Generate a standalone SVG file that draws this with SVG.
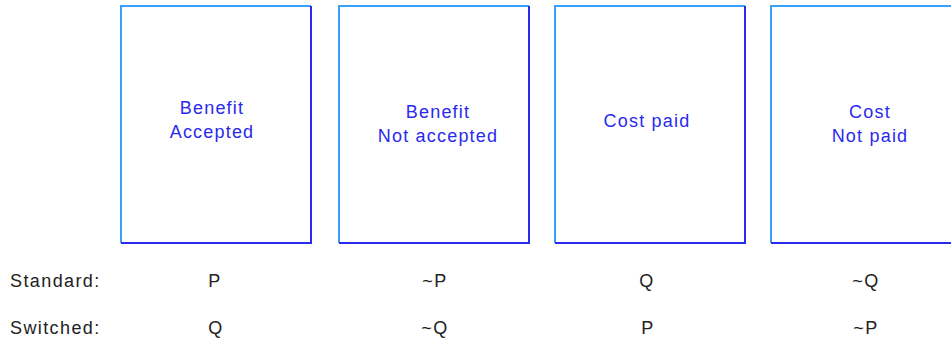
<svg xmlns="http://www.w3.org/2000/svg" width="951" height="339" viewBox="0 0 951 339">
<style>
.lt{stroke:#3aa0ff;stroke-width:2;fill:none}
.dk{stroke:#2a2aee;stroke-width:2;fill:none}
.bl{font-family:"Liberation Sans",Arial,sans-serif;font-size:18px;letter-spacing:1.2px;fill:#2a2aee;text-anchor:middle}
.lb{font-family:"Liberation Sans",Arial,sans-serif;font-size:18px;letter-spacing:1.4px;fill:#222}
.c{text-anchor:middle}
</style>
<rect width="951" height="339" fill="#fff"/>
<g id="benefit-accepted">
<path class="lt" d="M121,243 V6 H311"/>
<path class="dk" d="M311,6 V243 H121"/>
<text class="bl" x="212" y="114">Benefit</text>
<text class="bl" x="212" y="138">Accepted</text>
</g>
<g id="benefit-not-accepted">
<path class="lt" d="M339,243 V6 H529"/>
<path class="dk" d="M529,6 V243 H339"/>
<text class="bl" x="438" y="118">Benefit</text>
<text class="bl" x="438" y="142">Not accepted</text>
</g>
<g id="cost-paid">
<path class="lt" d="M555,243 V6 H745"/>
<path class="dk" d="M745,6 V243 H555"/>
<text class="bl" x="647" y="127">Cost paid</text>
</g>
<g id="cost-not-paid">
<path class="lt" d="M771,243 V6 H961"/>
<path class="dk" d="M771,243 H961"/>
<text class="bl" x="870" y="118">Cost</text>
<text class="bl" x="870" y="142">Not paid</text>
</g>
<g id="connectors"></g>
<g id="labels">
<text class="lb" x="10" y="287">Standard:</text>
<text class="lb" x="10" y="334">Switched:</text>
<text class="lb c" x="215" y="287">P</text>
<text class="lb c" x="435" y="287">~P</text>
<text class="lb c" x="647" y="287">Q</text>
<text class="lb c" x="866" y="287">~Q</text>
<text class="lb c" x="216" y="334">Q</text>
<text class="lb c" x="435" y="334">~Q</text>
<text class="lb c" x="648" y="334">P</text>
<text class="lb c" x="866" y="334">~P</text>
</g>
</svg>
